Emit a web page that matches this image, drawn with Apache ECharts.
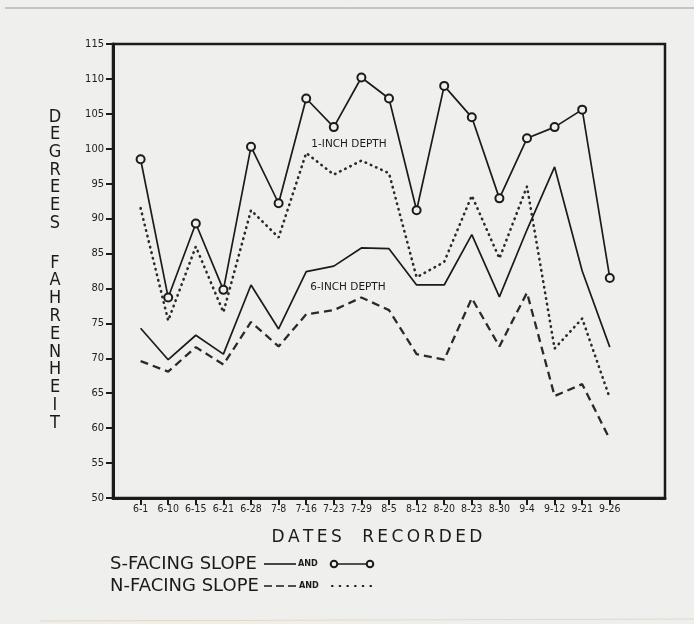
<!DOCTYPE html>
<html>
<head>
<meta charset="utf-8">
<script src="https://cdn.jsdelivr.net/npm/echarts@6/dist/echarts.min.js"></script>
<style>
html, body { margin: 0; padding: 0; background: #efefed; }
#chart { width: 694px; height: 624px; }
</style>
</head>
<body>
<div id="chart"></div>
<script>
// dates the soil temperatures were taken
let dates = ['6-1', '6-10', '6-15', '6-21', '6-28', '7-8', '7-16', '7-23', '7-29', '8-5',
             '8-12', '8-20', '8-23', '8-30', '9-4', '9-12', '9-21', '9-26'];

// 1-inch depth
let south1 = [98.5, 78.7, 89.3, 79.8, 100.3, 92.2, 107.2, 103.1, 110.2, 107.2,
              91.2, 109.0, 104.5, 92.9, 101.5, 103.1, 105.6, 81.5];
let north1 = [91.5, 75.4, 86.0, 76.6, 91.2, 87.3, 99.4, 96.3, 98.3, 96.5,
              81.6, 83.8, 93.3, 84.3, 94.6, 71.4, 75.7, 64.3];

// 6-inch depth
let south6 = [74.3, 69.8, 73.3, 70.6, 80.5, 74.2, 82.4, 83.2, 85.8, 85.7,
              80.5, 80.5, 87.7, 78.8, 88.4, 97.4, 82.5, 71.6];
let north6 = [69.6, 68.1, 71.6, 69.1, 75.2, 71.7, 76.3, 76.9, 78.7, 76.9,
              70.6, 69.8, 78.6, 71.7, 79.4, 64.6, 66.3, 58.4];

let yMin = 50;
let yMax = 115;
let yStep = 5;

let ink = '#1b1b1b';
let bg = '#efefed';
let cond = 'DejaVu Sans Condensed';

// one empty slot before and two after, so the dates sit inside the frame like the original
let cats = [''].concat(dates, ['', '']);
function pad(arr) {
    return [null].concat(arr, [null, null]);
}

let myChart = echarts.init(document.getElementById('chart'));

let option = {
    backgroundColor: bg,
    animation: false,
    grid: {
        left: 113, right: 29, top: 44, bottom: 126,
        show: true,
        borderColor: ink,
        borderWidth: 2.5,
        backgroundColor: 'transparent'
    },
    xAxis: {
        type: 'category',
        data: cats,
        boundaryGap: false,
        axisLine: { lineStyle: { color: ink, width: 3 } },
        axisTick: {
            inside: false,
            length: 7,
            lineStyle: { color: ink, width: 2 },
            interval: function (index, value) { return value !== ''; }
        },
        axisLabel: {
            interval: 0,
            margin: 6,
            color: '#222',
            fontFamily: cond,
            fontSize: 10.5
        },
        splitLine: { show: false }
    },
    yAxis: {
        type: 'value',
        min: yMin,
        max: yMax,
        interval: yStep,
        axisLine: { show: true, lineStyle: { color: ink, width: 3 } },
        axisTick: { show: true, length: 7, lineStyle: { color: ink, width: 2 } },
        axisLabel: {
            margin: 9,
            color: '#222',
            fontFamily: cond,
            fontSize: 11
        },
        splitLine: { show: false }
    },
    series: [
        {
            name: 'S 6-inch',
            type: 'line',
            data: pad(south6),
            symbol: 'none',
            lineStyle: { color: ink, width: 1.7 }
        },
        {
            name: 'N 6-inch',
            type: 'line',
            data: pad(north6),
            symbol: 'none',
            lineStyle: { color: '#2a2a2a', width: 2.3, type: [8, 5] }
        },
        {
            name: 'N 1-inch',
            type: 'line',
            data: pad(north1),
            symbol: 'none',
            lineStyle: { color: '#2a2a2a', width: 2.6, type: [0.5, 5.2], cap: 'round' }
        },
        {
            name: 'S 1-inch',
            type: 'line',
            data: pad(south1),
            symbol: 'circle',
            symbolSize: 8,
            itemStyle: { color: bg, borderColor: ink, borderWidth: 2 },
            lineStyle: { color: ink, width: 1.7 },
            z: 5
        }
    ],
    graphic: [
        // scan edge at the top
        { type: 'line', shape: { x1: 5, y1: 8, x2: 694, y2: 8 }, style: { stroke: '#9a9a9a', lineWidth: 1 } },
        { type: 'line', shape: { x1: 40, y1: 621, x2: 694, y2: 619 }, style: { stroke: '#e2d9bf', lineWidth: 1 } },
        // y axis title, one letter per line
        {
            type: 'text', x: 55, y: 108,
            style: { text: 'D\nE\nG\nR\nE\nE\nS', fill: ink, font: '18px "DejaVu Sans Condensed"',
                     lineHeight: 17.7, align: 'center', verticalAlign: 'top' }
        },
        {
            type: 'text', x: 55, y: 254,
            style: { text: 'F\nA\nH\nR\nE\nN\nH\nE\nI\nT', fill: ink, font: '18px "DejaVu Sans Condensed"',
                     lineHeight: 17.8, align: 'center', verticalAlign: 'top' }
        },
        // x axis title
        {
            type: 'text', x: 377, y: 538,
            style: { text: 'D\u2009A\u2009T\u2009E\u2009S\u2003\u2009R\u2009E\u2009C\u2009O\u2009R\u2009D\u2009E\u2009D',
                     fill: ink, font: '17px "DejaVu Sans"', align: 'center', verticalAlign: 'middle' }
        },
        // line labels
        {
            type: 'text', x: 349, y: 144,
            style: { text: '1-INCH DEPTH', fill: ink, font: '10.5px "DejaVu Sans"', align: 'center', verticalAlign: 'middle' }
        },
        {
            type: 'text', x: 348, y: 287,
            style: { text: '6-INCH DEPTH', fill: ink, font: '10.5px "DejaVu Sans"', align: 'center', verticalAlign: 'middle' }
        },
        // legend row 1
        {
            type: 'text', x: 110, y: 564,
            style: { text: 'S-FACING SLOPE', fill: ink, font: '18px "DejaVu Sans"', align: 'left', verticalAlign: 'middle' }
        },
        { type: 'line', shape: { x1: 264, y1: 564, x2: 296, y2: 564 }, style: { stroke: ink, lineWidth: 1.6 } },
        {
            type: 'text', x: 298, y: 564,
            style: { text: 'AND', fill: ink, font: 'bold 9px "DejaVu Sans Condensed"', align: 'left', verticalAlign: 'middle' }
        },
        { type: 'line', shape: { x1: 334, y1: 564, x2: 370, y2: 564 }, style: { stroke: ink, lineWidth: 1.6 } },
        { type: 'circle', shape: { cx: 334, cy: 564, r: 3.3 }, style: { fill: bg, stroke: ink, lineWidth: 2 } },
        { type: 'circle', shape: { cx: 370, cy: 564, r: 3.3 }, style: { fill: bg, stroke: ink, lineWidth: 2 } },
        // legend row 2
        {
            type: 'text', x: 110, y: 586,
            style: { text: 'N-FACING SLOPE', fill: ink, font: '18px "DejaVu Sans"', align: 'left', verticalAlign: 'middle' }
        },
        { type: 'line', shape: { x1: 264, y1: 586, x2: 297, y2: 586 }, style: { stroke: ink, lineWidth: 1.6, lineDash: [8, 4] } },
        {
            type: 'text', x: 299, y: 586,
            style: { text: 'AND', fill: ink, font: 'bold 9px "DejaVu Sans Condensed"', align: 'left', verticalAlign: 'middle' }
        },
        { type: 'line', shape: { x1: 332, y1: 586, x2: 371, y2: 586 }, style: { stroke: ink, lineWidth: 2.2, lineDash: [0.5, 7.2], lineCap: 'round' } }
    ]
};

myChart.setOption(option);
</script>
</body>
</html>
